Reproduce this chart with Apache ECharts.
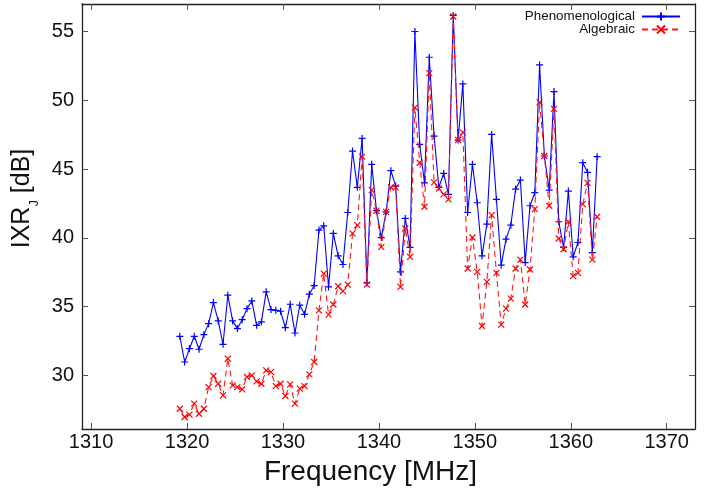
<!DOCTYPE html>
<html>
<head>
<meta charset="utf-8">
<script src="https://cdn.jsdelivr.net/npm/echarts@6/dist/echarts.min.js"></script>
<style>
html,body{margin:0;padding:0;background:#fff;}
#chart{width:715px;height:491px;}
</style>
</head>
<body>
<div id="chart"></div>
<script>
const freqs = [
  1319.25, 1319.75, 1320.25, 1320.75, 1321.25, 1321.75, 1322.25, 1322.75, 1323.25, 1323.75,
  1324.25, 1324.75, 1325.25, 1325.75, 1326.25, 1326.75, 1327.25, 1327.75, 1328.25, 1328.75,
  1329.25, 1329.75, 1330.25, 1330.75, 1331.25, 1331.75, 1332.25, 1332.75, 1333.25, 1333.75,
  1334.25, 1334.75, 1335.25, 1335.75, 1336.25, 1336.75, 1337.25, 1337.75, 1338.25, 1338.75,
  1339.25, 1339.75, 1340.25, 1340.75, 1341.25, 1341.75, 1342.25, 1342.75, 1343.25, 1343.75,
  1344.25, 1344.75, 1345.25, 1345.75, 1346.25, 1346.75, 1347.25, 1347.75, 1348.25, 1348.75,
  1349.25, 1349.75, 1350.25, 1350.75, 1351.25, 1351.75, 1352.25, 1352.75, 1353.25, 1353.75,
  1354.25, 1354.75, 1355.25, 1355.75, 1356.25, 1356.75, 1357.25, 1357.75, 1358.25, 1358.75,
  1359.25, 1359.75, 1360.25, 1360.75, 1361.25, 1361.75, 1362.25, 1362.75
];
const phenomenological = [
  32.84, 30.97, 31.94, 32.84, 31.90, 32.96, 33.76, 35.29, 33.96, 32.26,
  35.83, 33.96, 33.40, 34.05, 34.85, 35.41, 33.64, 33.89, 36.07, 34.78,
  34.73, 34.66, 33.47, 35.17, 33.08, 35.10, 34.44, 35.90, 36.53, 40.56,
  40.87, 36.43, 40.32, 38.69, 38.06, 41.84, 46.31, 43.67, 47.23, 36.72,
  45.34, 41.97, 40.02, 41.89, 44.88, 43.76, 37.52, 41.41, 39.30, 55.00,
  46.80, 44.00, 53.13, 47.40, 43.67, 44.68, 43.16, 56.17, 47.11, 51.19,
  41.84, 45.34, 42.55, 38.69, 41.00, 47.52, 42.79, 38.01, 39.90, 40.92,
  43.54, 44.20, 38.20, 42.33, 43.28, 52.57, 45.95, 43.47, 50.63, 41.17,
  39.30, 43.40, 38.62, 39.66, 45.46, 44.76, 38.93, 45.90
];
const algebraic = [
  27.57, 26.97, 27.14, 27.94, 27.21, 27.57, 29.15, 29.95, 29.39, 28.54,
  31.21, 29.27, 29.15, 28.98, 29.88, 30.00, 29.56, 29.39, 30.36, 30.24,
  29.22, 29.39, 28.50, 29.34, 27.94, 29.03, 29.22, 30.07, 30.97, 34.73,
  37.40, 34.42, 35.15, 36.48, 36.12, 36.60, 40.32, 40.92, 45.90, 36.60,
  43.47, 41.97, 39.34, 41.89, 43.67, 43.67, 36.43, 40.68, 38.62, 49.47,
  45.46, 42.26, 51.97, 44.03, 43.59, 43.16, 42.79, 56.09, 47.11, 47.67,
  37.77, 40.02, 37.52, 33.59, 36.80, 41.65, 37.45, 33.69, 34.85, 35.58,
  37.77, 38.42, 35.15, 37.70, 42.09, 49.85, 45.95, 42.33, 49.37, 39.95,
  39.17, 41.17, 37.21, 37.45, 42.45, 44.00, 38.42, 41.53
];
const xTicks = [1310, 1320, 1330, 1340, 1350, 1360, 1370];
const yTicks = [30, 35, 40, 45, 50, 55];
const seriesNames = ['Phenomenological', 'Algebraic'];

const FONT = '"Liberation Sans", Arial, Helvetica, sans-serif';
const XMIN = 1309.05, XMAX = 1372.95, YMIN = 26.1, YMAX = 57.0;
const axisLineStyle = { color: '#222', width: 1.3 };
const tickStyle = { color: '#555', width: 1 };

const chart = echarts.init(document.getElementById('chart'), null, { renderer: 'canvas' });

const plusPath = 'path://M0,5L10,5M5,0L5,10';
const crossPath = 'path://M0,0L10,10M10,0L0,10';

function xAxisDef(pos, showLabels) {
  return {
    type: 'value', position: pos, min: XMIN, max: XMAX,
    axisLine: { show: true, onZero: false, lineStyle: axisLineStyle },
    axisTick: { show: true, inside: true, length: 6, lineStyle: tickStyle, customValues: xTicks },
    axisLabel: {
      show: showLabels, customValues: xTicks, formatter: v => String(v),
      fontFamily: FONT, fontSize: 20, color: '#111', margin: 3
    },
    splitLine: { show: false },
    name: showLabels ? 'Frequency [MHz]' : '',
    nameLocation: 'middle', nameGap: 29,
    nameTextStyle: { fontFamily: FONT, fontSize: 28, color: '#111', padding: [0, 36, 0, 0] }
  };
}
function yAxisDef(pos, showLabels) {
  return {
    type: 'value', position: pos, min: YMIN, max: YMAX,
    axisLine: { show: true, onZero: false, lineStyle: axisLineStyle },
    axisTick: { show: true, inside: true, length: 6, lineStyle: tickStyle, customValues: yTicks },
    axisLabel: {
      show: showLabels, customValues: yTicks, formatter: v => String(v),
      fontFamily: FONT, fontSize: 20, color: '#111', margin: 8
    },
    splitLine: { show: false },
    name: showLabels ? '{a|IXR}{b|J}{a| [dB]}' : '',
    nameLocation: 'middle', nameGap: 43, nameRotate: 90,
    nameTextStyle: {
      fontFamily: FONT, color: '#111', padding: [0, 0, 0, 36],
      rich: {
        a: { fontFamily: FONT, fontSize: 25, color: '#111' },
        b: { fontFamily: FONT, fontSize: 13, color: '#111', verticalAlign: 'bottom', padding: [0, 0, -6, 0] }
      }
    }
  };
}

chart.setOption({
  animation: false,
  backgroundColor: '#fff',
  grid: { left: 82, right: 20, top: 4, bottom: 62, containLabel: false, outerBoundsMode: 'none' },
  legend: {
    orient: 'vertical', right: 34, top: 10, padding: 0, itemGap: 0,
    align: 'right', itemWidth: 38, itemHeight: 10,
    textStyle: { fontFamily: FONT, fontSize: 13.4, color: '#111', padding: [0, 2, 0, 0] },
    data: seriesNames
  },
  xAxis: [xAxisDef('bottom', true), xAxisDef('top', false)],
  yAxis: [yAxisDef('left', true), yAxisDef('right', false)],
  series: [
    {
      name: seriesNames[0], type: 'line', xAxisIndex: 0, yAxisIndex: 0,
      data: freqs.map((f, i) => [f, phenomenological[i]]),
      symbol: plusPath, symbolSize: 7, showSymbol: true,
      lineStyle: { color: '#0000ff', width: 1.1 },
      itemStyle: { color: '#0000ff', borderColor: '#0000ff', borderWidth: 1.2 },
      z: 3
    },
    {
      name: seriesNames[1], type: 'line', xAxisIndex: 0, yAxisIndex: 0,
      data: freqs.map((f, i) => [f, algebraic[i]]),
      symbol: crossPath, symbolSize: 6, showSymbol: true,
      lineStyle: { color: '#ff1a1a', width: 1.1, type: [6, 4] },
      itemStyle: { color: '#ff0000', borderColor: '#ff0000', borderWidth: 1.2 },
      z: 4
    }
  ]
});
</script>
</body>
</html>
